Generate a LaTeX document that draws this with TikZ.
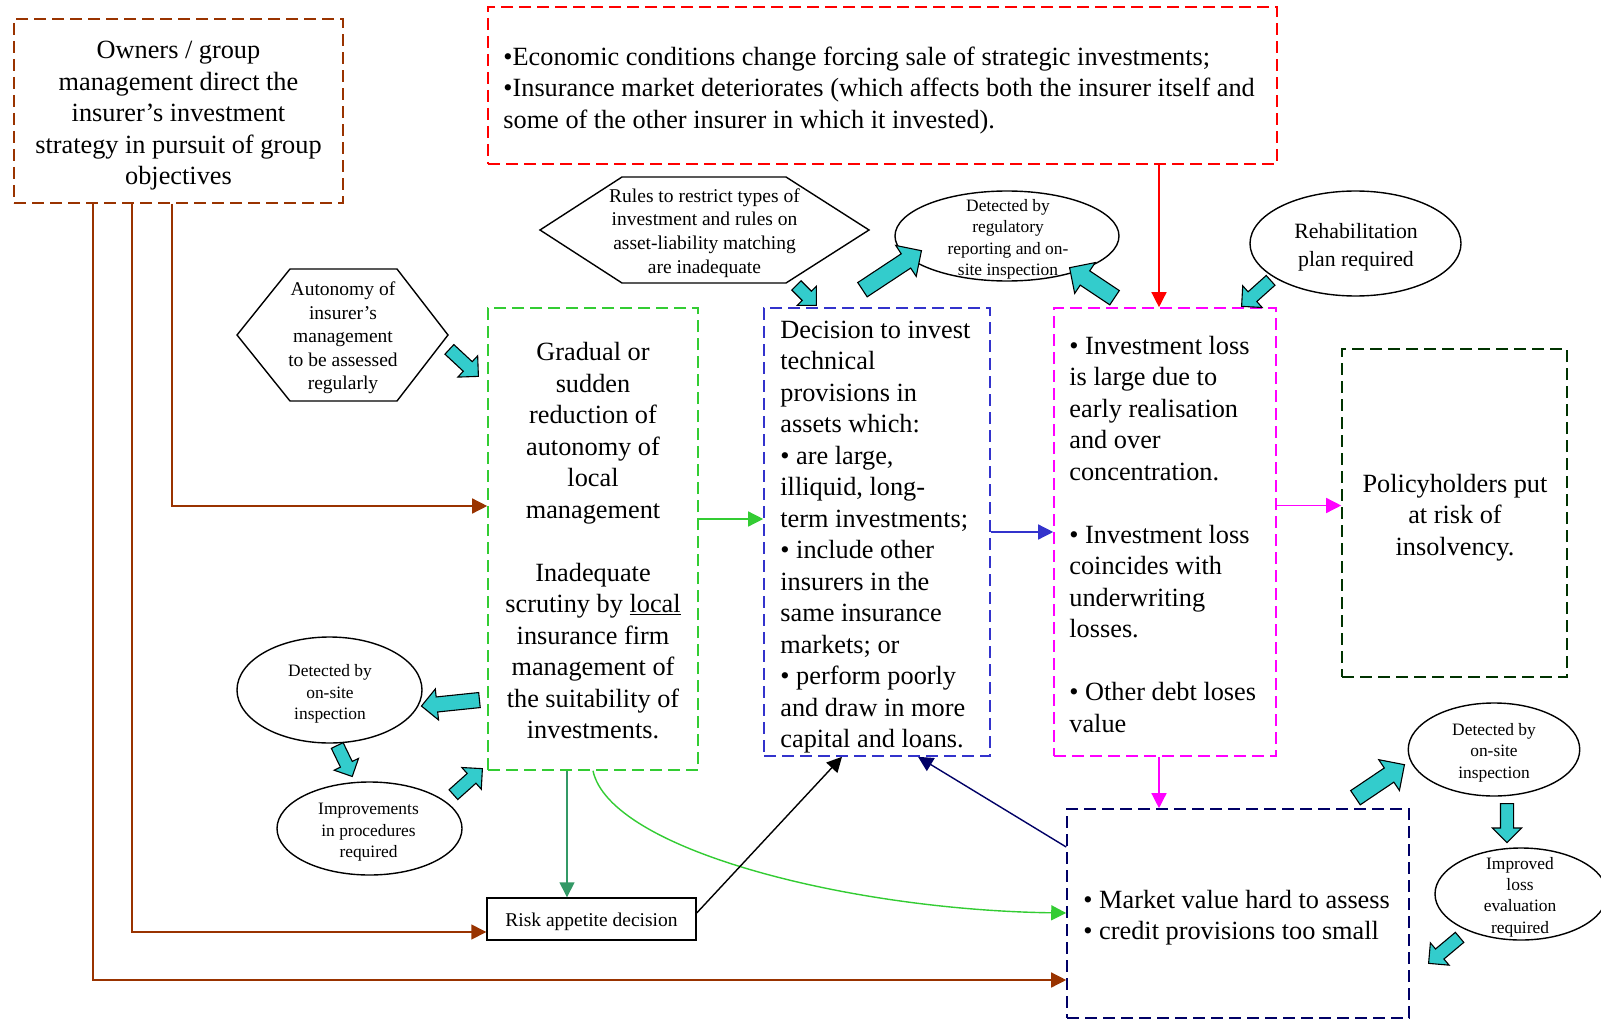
\documentclass[tikz,border=0pt]{standalone}
\usepackage{fontspec}
\setmainfont{Liberation Serif}
\usetikzlibrary{shapes.geometric,shapes.arrows,arrows.meta,calc}
\definecolor{brn}{HTML}{993300}
\definecolor{grn}{HTML}{33CC33}
\definecolor{blu}{HTML}{3333CC}
\definecolor{mag}{HTML}{FF00FF}
\definecolor{dkgrn}{HTML}{003300}
\definecolor{nvy}{HTML}{000066}
\definecolor{sgrn}{HTML}{339966}
\definecolor{arrcyan}{HTML}{33CCCC}
\newcommand\fBig{\fontsize{26.3pt}{31.5pt}\selectfont}
\newcommand\fMid{\fontsize{19.5pt}{23.6pt}\selectfont}
\newcommand\fSm{\fontsize{17.4pt}{21.4pt}\selectfont}
\newcommand\fReh{\fontsize{21.8pt}{27.6pt}\selectfont}
\newcommand\cyarrow[4]{%
  \path let \p1=(#1), \p2=(#2), \n1={atan2(\y2-\y1,\x2-\x1)}, \n2={veclen(\x2-\x1,\y2-\y1)} in
  (\p1) node[cyanarr, inner ysep=#3, single arrow head extend=#4, minimum height=\n2, rotate=\n1, anchor=tail] {};}
\begin{document}
\begin{tikzpicture}[x=1pt,y=-1pt,
  dbox/.style={draw, dash pattern=on 12pt off 6pt, line width=1.6pt, inner sep=0pt},
  txt/.style={inner sep=0pt},
  ell/.style={ellipse, draw, line width=1.4pt, inner sep=0pt},
  hexst/.style={draw, line width=1.4pt},
  conn/.style={line width=1.4pt, -{Triangle[length=15pt,width=15pt]}},
  cyanarr/.style={single arrow, draw=black, fill=arrcyan, line width=1.1pt, inner xsep=0pt, single arrow tip angle=90, minimum width=1pt}]
\useasboundingbox (0,0) rectangle (1601,1019);
\fill[white] (0,0) rectangle (1601,1019);

% boxes
\node[dbox, draw=brn, minimum width=329pt, minimum height=184pt] (owners) at (178.5,111) {};
\node[txt, font=\fBig, align=center] (ownerstxt) at (178.5,116)
  {Owners / group\\management direct the\\insurer’s investment\\strategy in pursuit of group\\objectives};

\node[dbox, draw=red, minimum width=789pt, minimum height=157pt] (econ) at (882.5,85.5) {};
\node[txt, font=\fBig, align=left, anchor=west] (econtxt) at ($(econ.west)+(16,5)$)
  {•Economic conditions change forcing sale of strategic investments;\\•Insurance market deteriorates (which affects both the insurer itself and\\some of the other insurer in which it invested).};

\node[dbox, draw=grn, minimum width=210pt, minimum height=462pt] (green) at (593,539) {};
\node[txt, font=\fBig, align=center] (greentxt) at (593,541)
  {Gradual or\\sudden\\reduction of\\autonomy of\\local\\management\\[31.5pt]Inadequate\\scrutiny by \underline{local}\\insurance firm\\management of\\the suitability of\\investments.};

\node[dbox, draw=blu, minimum width=226pt, minimum height=448pt] (blue) at (877,532) {};
\node[txt, font=\fBig, align=left, anchor=west] (bluetxt) at ($(blue.west)+(17,5)$)
  {Decision to invest\\technical\\provisions in\\assets which:\\• are large,\\illiquid, long-\\term investments;\\• include other\\insurers in the\\same insurance\\markets; or\\• perform poorly\\and draw in more\\capital and loans.};

\node[dbox, draw=mag, minimum width=222pt, minimum height=448pt] (mag) at (1165,532) {};
\node[txt, font=\fBig, align=left, anchor=west] (magtxt) at ($(mag.west)+(16,2)$)
  {• Investment loss\\is large due to\\early realisation\\and over\\concentration.\\[31.5pt]• Investment loss\\coincides with\\underwriting\\losses.\\[31.5pt]• Other debt loses\\value};

\node[dbox, draw=dkgrn, minimum width=225pt, minimum height=328pt] (pol) at (1454.5,513) {};
\node[txt, font=\fBig, align=center] (poltxt) at (1455,517.5) {Policyholders put\\at risk of\\insolvency.};

\node[dbox, draw=nvy, minimum width=342pt, minimum height=209pt] (mkt) at (1238,913.5) {};
\node[txt, font=\fBig, align=left, anchor=west] (mkttxt) at ($(mkt.west)+(17,4)$)
  {• Market value hard to assess\\• credit provisions too small};

\node[draw, line width=1.4pt, minimum width=209pt, minimum height=42pt] (risk) at (591.5,919) {};
\node[txt, font=\fMid] (risktxt) at (591.5,922) {Risk appetite decision};

% hexagons
\node[txt, font=\fMid, align=center] (auton) at (343,338) {Autonomy of\\insurer’s\\management\\to be assessed\\regularly};
\draw[hexst] ($(auton)+(-106,-3)$) -- ($(auton)+(-53,-69)$) -- ($(auton)+(54,-69)$) -- ($(auton)+(105,-3)$) -- ($(auton)+(54,63)$) -- ($(auton)+(-53,63)$) -- cycle;

\node[txt, font=\fMid, align=center] (rules) at (704.5,233) {Rules to restrict types of\\investment and rules on\\asset-liability matching\\are inadequate};
\draw[hexst] ($(rules)+(-164.5,-3)$) -- ($(rules)+(-82.5,-56)$) -- ($(rules)+(81.5,-56)$) -- ($(rules)+(164.5,-3)$) -- ($(rules)+(81.5,50)$) -- ($(rules)+(-82.5,50)$) -- cycle;

% ellipses
\node[ell, minimum width=224pt, minimum height=90pt] (reg) at (1007,236) {};
\node[txt, font=\fSm, align=center] (regtxt) at (1008,239.5) {Detected by\\regulatory\\reporting and on-\\site inspection};

\node[ell, minimum width=211pt, minimum height=105pt] (rehab) at (1355.5,243.5) {};
\node[txt, font=\fReh, align=center] (rehabtxt) at (1356,247.5) {Rehabilitation\\plan required};

\node[ell, minimum width=185pt, minimum height=106pt] (detL) at (329.5,690) {};
\node[txt, font=\fSm, align=center] (detLtxt) at (330,694) {Detected by\\on-site\\inspection};

\node[ell, minimum width=185pt, minimum height=93pt] (impL) at (369.5,828.5) {};
\node[txt, font=\fSm, align=center] (impLtxt) at (368.5,832.5) {Improvements\\in procedures\\required};

\node[ell, minimum width=171.5pt, minimum height=93pt] (detR) at (1494,749.5) {};
\node[txt, font=\fSm, align=center] (detRtxt) at (1494,752.5) {Detected by\\on-site\\inspection};

\node[ell, minimum width=172pt, minimum height=92pt] (impR) at (1521,894) {};
\node[txt, font=\fSm, align=center] (impRtxt) at (1520,897) {Improved\\loss\\evaluation\\required};

% connectors
\coordinate (b1) at (172,506);
\coordinate (b2) at (132,932);
\coordinate (b3) at (93,980);
\draw[conn, draw=brn] (owners.south -| b1) |- (green.west |- b1);
\draw[conn, draw=brn] (owners.south -| b2) |- (risk.west |- b2);
\draw[conn, draw=brn] (owners.south -| b3) |- (mkt.west |- b3);

\coordinate (g1) at (0,519);
\draw[conn, draw=grn] (green.east |- g1) -- (blue.west |- g1);
\coordinate (c2) at (0,532);
\draw[conn, draw=blu] (blue.east |- c2) -- (mag.west |- c2);
\coordinate (c3) at (0,505.5);
\draw[conn, draw=mag] (mag.east |- c3) -- (pol.west |- c3);
\coordinate (c4) at (1159,0);
\draw[conn, draw=red] (econ.south -| c4) -- (mag.north -| c4);
\draw[conn, draw=mag] (mag.south -| c4) -- (mkt.north -| c4);
\coordinate (c5) at (567,0);
\draw[conn, draw=sgrn] (green.south -| c5) -- (risk.north -| c5);
\coordinate (c6) at (593,0);
\coordinate (c7) at (0,913);
\coordinate (gc1) at (610,850);
\coordinate (gc2) at (850,910);
\draw[conn, draw=grn] (green.south -| c6) .. controls (gc1) and (gc2) .. (mkt.west |- c7);
\coordinate (k1) at (842,913);
\draw[conn, draw=black] (risk.east |- k1) -- (blue.south -| k1);
\coordinate (n1) at (918,847);
\draw[conn, draw=nvy] (mkt.west |- n1) -- (blue.south -| n1);

% cyan block arrows
\coordinate (a1s) at (449,349);  \coordinate (a1e) at (478,376);
\coordinate (a2s) at (796,285);  \coordinate (a2e) at (816,305);
\coordinate (a3s) at (862,290);  \coordinate (a3e) at (921,251);
\coordinate (a4s) at (1115,298); \coordinate (a4e) at (1070,268);
\coordinate (a5s) at (1271,280); \coordinate (a5e) at (1242,306);
\coordinate (a6s) at (480,700);  \coordinate (a6e) at (422,706);
\coordinate (a7s) at (337,745);  \coordinate (a7e) at (352,776);
\coordinate (a8s) at (453,795);  \coordinate (a8e) at (482,769);
\coordinate (a9s) at (1355,798); \coordinate (a9e) at (1404,765);
\coordinate (a10s) at (1507,803); \coordinate (a10e) at (1507,842);
\coordinate (a11s) at (1460,937); \coordinate (a11e) at (1429,963);
\cyarrow{a1s}{a1e}{6pt}{8pt}
\cyarrow{a2s}{a2e}{6pt}{7pt}
\cyarrow{a3s}{a3e}{8pt}{10pt}
\cyarrow{a4s}{a4e}{8pt}{10pt}
\cyarrow{a5s}{a5e}{6pt}{8pt}
\cyarrow{a6s}{a6e}{7pt}{8pt}
\cyarrow{a7s}{a7e}{6pt}{7pt}
\cyarrow{a8s}{a8e}{6pt}{8pt}
\cyarrow{a9s}{a9e}{8pt}{10pt}
\cyarrow{a10s}{a10e}{6pt}{8pt}
\cyarrow{a11s}{a11e}{6pt}{8pt}
\end{tikzpicture}
\end{document}
